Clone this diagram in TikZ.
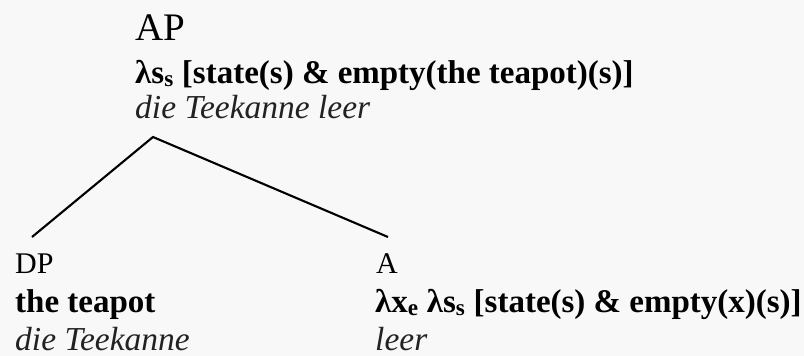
\documentclass[tikz,border=0pt]{standalone}
\usepackage{fontspec}
\setmainfont{Liberation Serif}
\definecolor{bgcol}{HTML}{F8F8F8}
\definecolor{itcol}{HTML}{222222}
\begin{document}
\begin{tikzpicture}[x=1pt,y=-1pt,
  lbl/.style={inner sep=0pt,anchor=base west},
  catbig/.style={lbl,font=\fontsize{39}{44}\selectfont},
  cat/.style={lbl,font=\fontsize{30}{36}\selectfont},
  sem/.style={lbl,font=\fontsize{33}{40}\selectfont\bfseries},
  gloss/.style={lbl,text=itcol,font=\fontsize{33.5}{40}\selectfont\itshape},
  branch/.style={line width=2.1pt,line cap=butt,line join=miter}]
\fill[bgcol] (0,0) rectangle (804,356);
\useasboundingbox (0,0) rectangle (804,356);
% mother node
\node[catbig] (ap) at (135,40) {AP};
\node[sem] (apsem) at (135,83) {λs\textsubscript{s} [state(s) \& empty(the teapot)(s)]};
\node[gloss] (apgl) at (135,118) {die Teekanne leer};
% daughters
\node[cat] (dp) at (15,273) {DP};
\node[sem] (dpsem) at (15,312) {the teapot};
\node[gloss] (dpgl) at (15,350) {die Teekanne};
\node[cat] (a) at (376,273) {A};
\node[sem] (asem) at (375,312) {λx\textsubscript{e} λs\textsubscript{s} [state(s) \& empty(x)(s)]};
\node[gloss] (agl) at (375,350) {leer};
% branch points
\coordinate (apex) at (153,137);
\coordinate (dptop) at (32,237);
\coordinate (atop) at (388,237);
\draw[branch] (dptop) -- (apex) -- (atop);
\end{tikzpicture}
\end{document}
